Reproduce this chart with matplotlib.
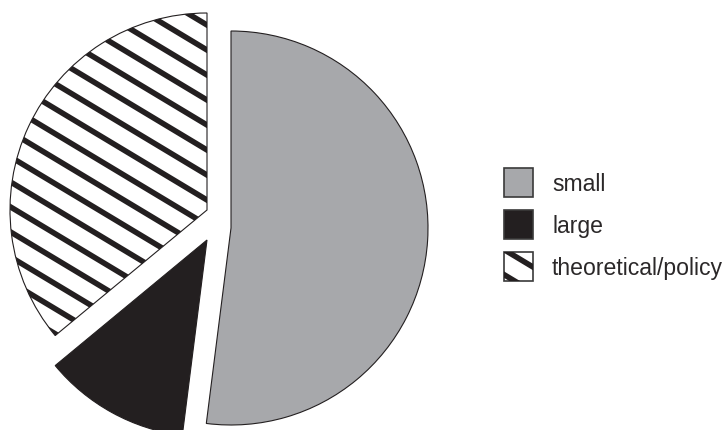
import numpy as np
import matplotlib
matplotlib.use('Agg')
import matplotlib.pyplot as plt
from matplotlib.patches import Rectangle

# =============================================================================
# Data
# =============================================================================

labels = ['small', 'large', 'theoretical/policy']
shares = [52, 12, 36]

# =============================================================================
# Style / layout (pixel units, y measured from the top)
# =============================================================================

W, H = 728, 430
gray = '#a7a8ab'
black = '#231f20'
radius = 197
# where each slice's corner sits (slices are pulled apart by hand)
slice_centers = [(231, 228), (207, 240), (207, 210)]
stripe_angle = 31          # degrees, descending to the right
stripe_step = 25           # vertical distance between stripes, px
stripe_lw = 4.0

def py(y):
    return H - y

fig = plt.figure(figsize = (W/100, H/100), dpi = 100)
ax = fig.add_axes([0, 0, 1, 1])

wedges, _ = ax.pie(shares, colors = [gray, black, 'white'], startangle = 90,
                   counterclock = False, radius = radius, center = (219, py(226)),
                   wedgeprops = dict(edgecolor = black, linewidth = 0.8))
for w, (cx, cy) in zip(wedges, slice_centers):
    w.set_center((cx, py(cy)))

ax.set_xlim(0, W)
ax.set_ylim(0, H)
ax.set_aspect('equal')
ax.axis('off')

# diagonal stripes, clipped to a patch
slope = np.tan(np.radians(stripe_angle))
def stripes(clip, x0, x1, xref, yref):
    for k in range(-30, 30):
        yk = yref + k*stripe_step
        ys = [py(yk + slope*(x0 - xref)), py(yk + slope*(x1 - xref))]
        ln, = ax.plot([x0, x1], ys, color = black, lw = stripe_lw,
                      solid_capstyle = 'butt', zorder = 3)
        ln.set_clip_path(clip)

stripes(wedges[2], 0, 230, 207, 50)

# =============================================================================
# Legend
# =============================================================================

box_x, box_s = 504, 29
box_y = [168, 210, 252]
fills = [gray, black, 'white']
for lab, y, fc in zip(labels, box_y, fills):
    r = Rectangle((box_x, py(y + box_s)), box_s, box_s, facecolor = fc,
                  edgecolor = '#3a3a3a', lw = 1.2, zorder = 2)
    ax.add_patch(r)
    ax.text(552, py(y + box_s - 6), lab, ha = 'left', va = 'baseline',
            fontsize = 16.6, color = '#2b2829', family = 'Liberation Sans')

hatch_box = ax.patches[-1]
stripes(hatch_box, box_x - 2, box_x + box_s + 2, box_x, 249.6)

plt.savefig('out.png', dpi = 100)
